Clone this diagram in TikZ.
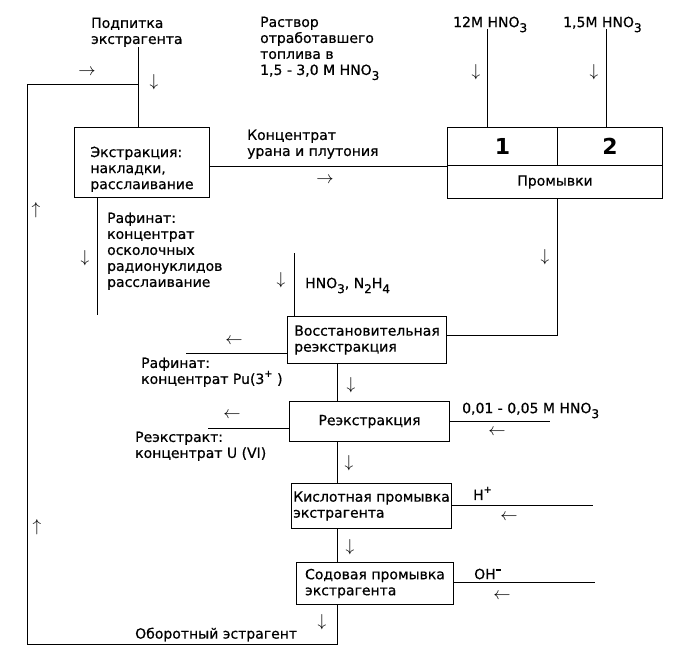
\documentclass[tikz,border=0pt]{standalone}
\usepackage{fontspec}
\setmainfont{DejaVu Sans}[UprightFeatures={FakeBold=0.6}]
\newcommand\lsub[1]{\raisebox{-5pt}{\fontsize{12}{12}\selectfont #1}}
\newcommand\hsup[1]{\raisebox{6pt}{\fontsize{10}{10}\selectfont\bfseries #1}}
\tikzset{
  box/.style={draw, line width=1pt, inner sep=0pt, align=left, anchor=north west, font=\fontsize{14}{16}\selectfont},
  txt/.style={inner sep=0pt, align=left, anchor=north west, font=\fontsize{14}{16}\selectfont},
  arr/.style={inner sep=0pt, font=\fontsize{16}{16}\selectfont},
  ln/.style={line width=1pt}
}
\begin{document}
\begin{tikzpicture}[x=1pt,y=-1pt]
\useasboundingbox (0,0) rectangle (678,670);
\fill[white] (0,0) rectangle (678,670);
% boxes
\node[box, minimum width=135, minimum height=70] (ext) at (74,127) {\rule{0pt}{24pt}Экстракция:\\накладки,\\расслаивание};
\node[box, minimum width=110, minimum height=38, font=\fontsize{22}{22}\selectfont\bfseries, align=center] (cell1) at (447,127) {1};
\node[box, minimum width=105, minimum height=38, font=\fontsize{22}{22}\selectfont\bfseries, align=center] (cell2) at (557,127) {2};
\node[box, minimum width=215, minimum height=33, align=center] (prom) at (447,165) {Промывки};
\node[box, minimum width=159, minimum height=47] (vos) at (287,316) {Восстановительная\\реэкстракция};
\node[box, minimum width=160, minimum height=40, align=center] (rex) at (289,401) {Реэкстракция};
\node[box, minimum width=160, minimum height=45] (kis) at (291,483) {Кислотная промывка\\экстрагента};
\node[box, minimum width=157, minimum height=42] (sod) at (296,562) {Содовая промывка\\экстрагента};
% texts
\node[txt] (pod) at (91,17.5) {Подпитка\\экстрагента};
\node[txt] (rast) at (260,16.5) {Раствор\\отработавшего\\топлива в\\1,5 - 3,0 М HNO\lsub{3}};
\node[txt] (h12) at (453,16.5) {12M HNO\lsub{3}};
\node[txt] (h15) at (563,16.5) {1,5M HNO\lsub{3}};
\node[txt] (konc) at (247,129.5) {Концентрат\\урана и плутония};
\node[txt] (raf1) at (107,212.5) {Рафинат:\\концентрат\\осколочных\\радионуклидов\\расслаивание};
\node[txt] (hn) at (305,277.5) {HNO\lsub{3}, N\lsub{2}H\lsub{4}};
\node[txt] (raf2) at (141,357.5) {Рафинат:\\концентрат Pu(3\hsup{+} )};
\node[txt] (reex) at (135,431.5) {Реэкстракт:\\концентрат U (VI)};
\node[txt] (c001) at (462,402.5) {0,01 - 0,05 M  HNO\lsub{3}};
\node[txt] (hp) at (473,487.5) {H\hsup{+}};
\node[txt] (oh) at (474,568.5) {OH\raisebox{8pt}{\rule{5pt}{1.8pt}}};
\node[txt] (obor) at (135,627.5) {Оборотный эстрагент};
% arrow glyphs
\node[arr] (g1) at (87,72) {$\rightarrow$};
\node[arr] (g2) at (154,82) {$\downarrow$};
\node[arr] (g3) at (325,180) {$\rightarrow$};
\node[arr] (g4) at (36,210) {$\uparrow$};
\node[arr] (g5) at (85,258) {$\downarrow$};
\node[arr] (g6) at (281,280) {$\downarrow$};
\node[arr] (g7) at (476,72) {$\downarrow$};
\node[arr] (g8) at (594,72) {$\downarrow$};
\node[arr] (g9) at (545,257) {$\downarrow$};
\node[arr] (g10) at (234,341) {$\leftarrow$};
\node[arr] (g11) at (351,385) {$\downarrow$};
\node[arr] (g12) at (232,415) {$\leftarrow$};
\node[arr] (g13) at (497,432) {$\leftarrow$};
\node[arr] (g14) at (349,463) {$\downarrow$};
\node[arr] (g15) at (37,527) {$\uparrow$};
\node[arr] (g16) at (509,517) {$\leftarrow$};
\node[arr] (g17) at (350,547) {$\downarrow$};
\node[arr] (g18) at (502,596) {$\leftarrow$};
\node[arr] (g19) at (322,622) {$\downarrow$};
% coordinates
\coordinate (podtop) at (138,47);
\coordinate (loopj) at (138,84);
\coordinate (a12) at (487,29);
\coordinate (a15) at (606,29);
\coordinate (pv) at (557,335);
\coordinate (hntop) at (294,253);
\coordinate (rf) at (97,315);
\coordinate (vl) at (186,353);
\coordinate (rl) at (208,428);
\coordinate (rr) at (550,421);
\coordinate (kr) at (593,505);
\coordinate (sr) at (595,582);
\coordinate (mid) at (337,0);
\coordinate (bl) at (27,644);
\coordinate (br) at (337,644);
% connectors
\draw[ln] (podtop) -- (podtop |- ext.north);
\draw[ln] (loopj) -- (27,84) -- (bl) -- (br) -- (br |- sod.south);
\draw[ln] (ext.east |- cell1.south west) -- (cell1.south west);
\draw[ln] (a12) -- (a12 |- cell1.north);
\draw[ln] (a15) -- (a15 |- cell2.north);
\draw[ln] (prom.south -| cell2.south west) -- (pv) -- (pv -| vos.east);
\draw[ln] (hntop) -- (hntop |- vos.north);
\draw[ln] (rf |- ext.south) -- (rf);
\draw[ln] (vos.west |- vl) -- (vl);
\draw[ln] (mid |- vos.south) -- (mid |- rex.north);
\draw[ln] (rex.west |- rl) -- (rl);
\draw[ln] (rex.east |- rr) -- (rr);
\draw[ln] (mid |- rex.south) -- (mid |- kis.north);
\draw[ln] (kis.east |- kr) -- (kr);
\draw[ln] (mid |- kis.south) -- (mid |- sod.north);
\draw[ln] (sod.east |- sr) -- (sr);
\end{tikzpicture}
\end{document}
